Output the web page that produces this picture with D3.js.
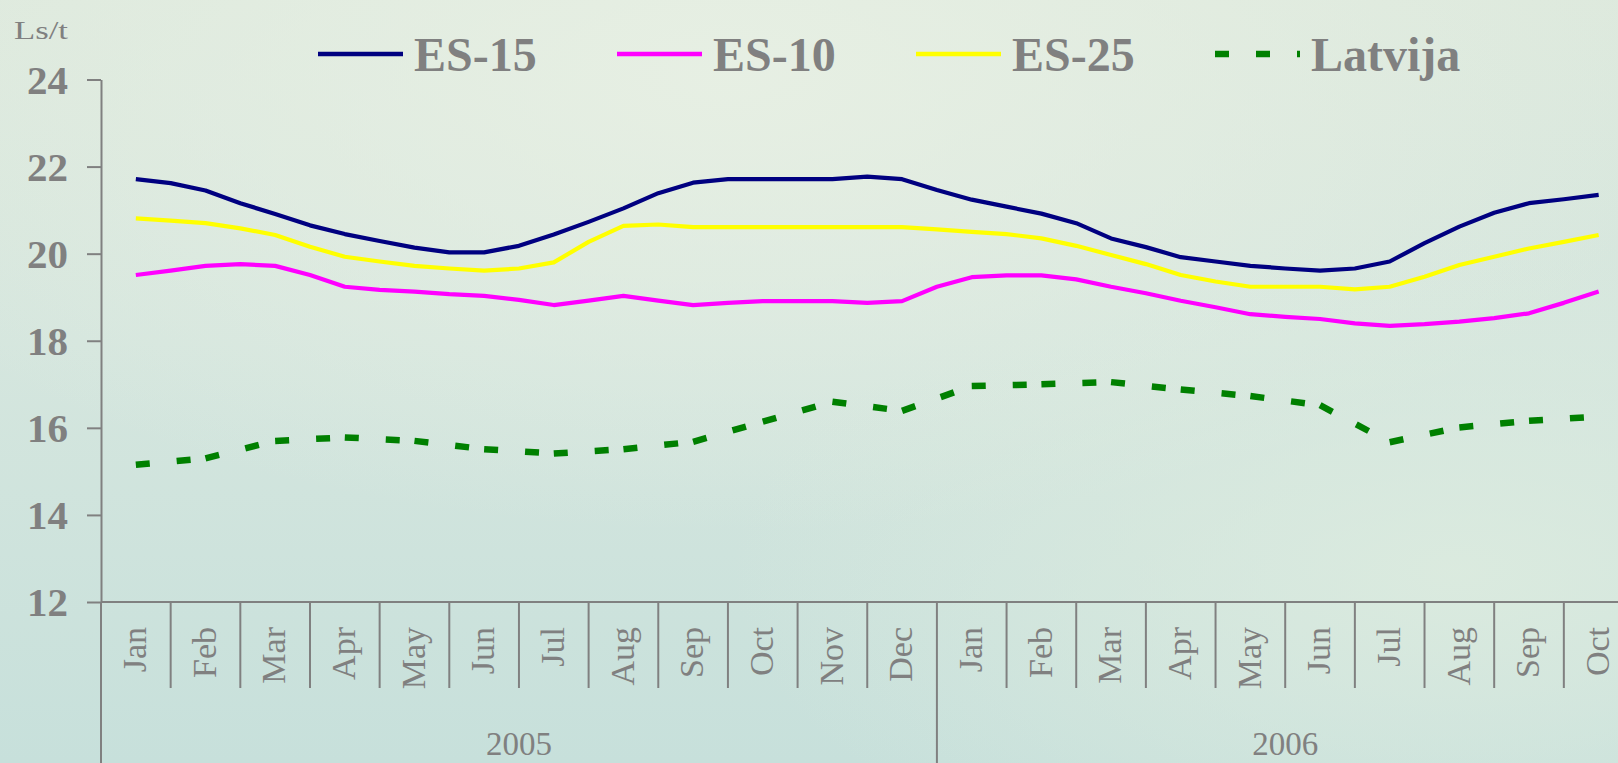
<!DOCTYPE html>
<html>
<head>
<meta charset="utf-8">
<script src="https://cdn.jsdelivr.net/npm/d3@7"></script>
<style>
  html, body { margin: 0; padding: 0; overflow: hidden; }
  svg { display: block; }
</style>
</head>
<body>
<div class="chart"></div>
<script>
// price chart, Ls/t, Jan 2005 - Oct 2006

// month labels on the x axis
const months = ['Jan', 'Feb', 'Mar', 'Apr', 'May', 'Jun', 'Jul', 'Aug', 'Sep', 'Oct', 'Nov', 'Dec',
                'Jan', 'Feb', 'Mar', 'Apr', 'May', 'Jun', 'Jul', 'Aug', 'Sep', 'Oct'];
const years = ['2005', '2006'];
const yearMonthCounts = [12, 10];
const yTicks = [12, 14, 16, 18, 20, 22, 24];

// EU series, two readings per month (month middle and month end)
const es15 = [21.71, 21.62, 21.45, 21.16, 20.91, 20.65, 20.45, 20.29, 20.14, 20.03,
              20.03, 20.18, 20.44, 20.73, 21.04, 21.39, 21.63, 21.71, 21.71, 21.71,
              21.71, 21.77, 21.71, 21.46, 21.24, 21.08, 20.92, 20.70, 20.35, 20.15,
              19.92, 19.82, 19.72, 19.66, 19.61, 19.66, 19.82, 20.24, 20.62, 20.94,
              21.16, 21.25, 21.35];
const es10 = [19.51, 19.61, 19.72, 19.76, 19.72, 19.51, 19.24, 19.17, 19.13, 19.07,
              19.03, 18.94, 18.82, 18.92, 19.03, 18.92, 18.82, 18.87, 18.91, 18.91,
              18.91, 18.87, 18.91, 19.24, 19.46, 19.50, 19.50, 19.41, 19.24, 19.09,
              18.92, 18.77, 18.61, 18.55, 18.50, 18.40, 18.34, 18.38, 18.44, 18.52,
              18.63, 18.87, 19.13];
const es25 = [20.81, 20.76, 20.70, 20.58, 20.43, 20.16, 19.93, 19.82, 19.72, 19.66,
              19.61, 19.66, 19.80, 20.27, 20.64, 20.67, 20.61, 20.61, 20.61, 20.61,
              20.61, 20.61, 20.61, 20.56, 20.50, 20.45, 20.35, 20.18, 19.97, 19.76,
              19.51, 19.36, 19.24, 19.24, 19.24, 19.18, 19.24, 19.47, 19.74, 19.93,
              20.12, 20.27, 20.43];
// Latvia, one value per month
const latvija = [15.15, 15.30, 15.70, 15.78, 15.70, 15.51, 15.41, 15.51, 15.68, 16.14, 16.60, 16.39,
                 16.96, 17.00, 17.05, 16.88, 16.73, 16.52, 15.67, 16.01, 16.16, 16.26];

const legendNames = ['ES-15', 'ES-10', 'ES-25', 'Latvija'];
const legendColors = ['#000080', '#ff00ff', '#ffff00', '#008000'];

const width = 1618;
const height = 763;
const grey = '#808080';
const serif = '"Liberation Serif", "Times New Roman", Times, serif';

const svg = d3.select('.chart')
  .append('svg')
  .attr('width', width)
  .attr('height', height);

// background wash
const defs = svg.append('defs');
const bg = defs.append('linearGradient')
  .attr('id', 'bg')
  .attr('x1', 0).attr('y1', 0).attr('x2', 0).attr('y2', 1);
bg.append('stop').attr('offset', '0%').attr('stop-color', '#dde9dd');
bg.append('stop').attr('offset', '45%').attr('stop-color', '#d5e6de');
bg.append('stop').attr('offset', '100%').attr('stop-color', '#c7e0db');

const glow = defs.append('radialGradient')
  .attr('id', 'glow')
  .attr('cx', 0.45).attr('cy', 0.1).attr('r', 0.6);
glow.append('stop').attr('offset', '0%').attr('stop-color', '#e8f0e4').attr('stop-opacity', 0.9);
glow.append('stop').attr('offset', '100%').attr('stop-color', '#e8f0e4').attr('stop-opacity', 0);

const glowRight = defs.append('radialGradient')
  .attr('id', 'glowRight')
  .attr('cx', 0.9).attr('cy', 0.75).attr('r', 0.45);
glowRight.append('stop').attr('offset', '0%').attr('stop-color', '#dcebdf').attr('stop-opacity', 0.9);
glowRight.append('stop').attr('offset', '100%').attr('stop-color', '#dcebdf').attr('stop-opacity', 0);

svg.append('rect').attr('width', width).attr('height', height).attr('fill', 'url(#bg)');
svg.append('rect').attr('width', width).attr('height', height).attr('fill', 'url(#glow)');
svg.append('rect').attr('width', width).attr('height', height).attr('fill', 'url(#glowRight)');

// scales
const left = 101;
const right = 1633.5;   // the plot runs past the right edge of the picture
const x = d3.scaleLinear().domain([-0.5, months.length - 0.5]).range([left, right]);
const y = d3.scaleLinear().domain([12, 24]).range([602, 79.5]);

// y axis
const yAxis = svg.append('g')
  .attr('transform', `translate(${left},0)`)
  .call(d3.axisLeft(y).tickValues(yTicks).tickSize(14).tickSizeOuter(0).tickPadding(19));
yAxis.select('.domain').attr('stroke', grey).attr('stroke-width', 2);
yAxis.selectAll('.tick line').attr('stroke', grey).attr('stroke-width', 2);
yAxis.selectAll('.tick text')
  .attr('fill', grey)
  .attr('font-family', serif)
  .attr('font-weight', 'bold')
  .attr('font-size', 41)
  .attr('dy', '0.34em');

svg.append('text')
  .attr('x', 14)
  .attr('y', 39)
  .attr('fill', grey)
  .attr('font-family', serif)
  .attr('font-size', 26)
  .attr('textLength', 54)
  .attr('lengthAdjust', 'spacingAndGlyphs')
  .text('Ls/t');

// x axis baseline
svg.append('line')
  .attr('x1', left).attr('x2', right)
  .attr('y1', y(12)).attr('y2', y(12))
  .attr('stroke', grey).attr('stroke-width', 2);

// month dividers (short) and year dividers (long)
const yearStarts = [0];
yearMonthCounts.forEach(c => yearStarts.push(yearStarts[yearStarts.length - 1] + c));

svg.append('g')
  .selectAll('line')
  .data(d3.range(months.length + 1))
  .enter()
    .append('line')
    .attr('x1', i => x(i - 0.5))
    .attr('x2', i => x(i - 0.5))
    .attr('y1', y(12))
    .attr('y2', i => yearStarts.includes(i) ? height : 688)
    .attr('stroke', grey)
    .attr('stroke-width', 2);

svg.append('g')
  .selectAll('text')
  .data(months)
  .enter()
    .append('text')
    .attr('transform', (d, i) => `translate(${x(i)},627) rotate(-90)`)
    .attr('dy', '0.3em')
    .attr('text-anchor', 'end')
    .attr('fill', grey)
    .attr('font-family', serif)
    .attr('font-size', 34)
    .text(d => d);

svg.append('g')
  .selectAll('text')
  .data(years)
  .enter()
    .append('text')
    .attr('x', (d, i) => (x(yearStarts[i] - 0.5) + x(yearStarts[i + 1] - 0.5)) / 2)
    .attr('y', 755)
    .attr('text-anchor', 'middle')
    .attr('fill', grey)
    .attr('font-family', serif)
    .attr('font-size', 33)
    .text(d => d);

// lines
const halfMonthLine = d3.line()
  .x((d, i) => x(i / 2))
  .y(d => y(d));

[[es10, '#ff00ff'], [es25, '#ffff00'], [es15, '#000080']].forEach(([values, color]) => {
  svg.append('path')
    .datum(values)
    .attr('d', halfMonthLine)
    .attr('fill', 'none')
    .attr('stroke', color)
    .attr('stroke-width', 4.2)
    .attr('stroke-linejoin', 'round');
});

// dashed Latvia line: the dash pattern restarts at every month, so one segment per month
svg.append('g')
  .selectAll('line')
  .data(d3.pairs(latvija))
  .enter()
    .append('line')
    .attr('x1', (d, i) => x(i))
    .attr('y1', d => y(d[0]))
    .attr('x2', (d, i) => x(i + 1))
    .attr('y2', d => y(d[1]))
    .attr('stroke', '#008000')
    .attr('stroke-width', 6.5)
    .attr('stroke-dasharray', '14,27');

// legend
const legend = svg.append('g')
  .selectAll('g')
  .data(legendNames)
  .enter()
    .append('g')
    .attr('transform', (d, i) => `translate(${318 + i * 299},0)`);

legend.append('line')
  .attr('x1', 0).attr('x2', 85)
  .attr('y1', 54).attr('y2', 54)
  .attr('stroke', (d, i) => legendColors[i])
  .attr('stroke-width', (d, i) => i === 3 ? 6.5 : 4.5)
  .attr('stroke-dasharray', (d, i) => i === 3 ? '14,27' : null);

legend.append('text')
  .attr('x', 96)
  .attr('y', 71)
  .attr('fill', grey)
  .attr('font-family', serif)
  .attr('font-weight', 'bold')
  .attr('font-size', 48)
  .text(d => d);
</script>
</body>
</html>
